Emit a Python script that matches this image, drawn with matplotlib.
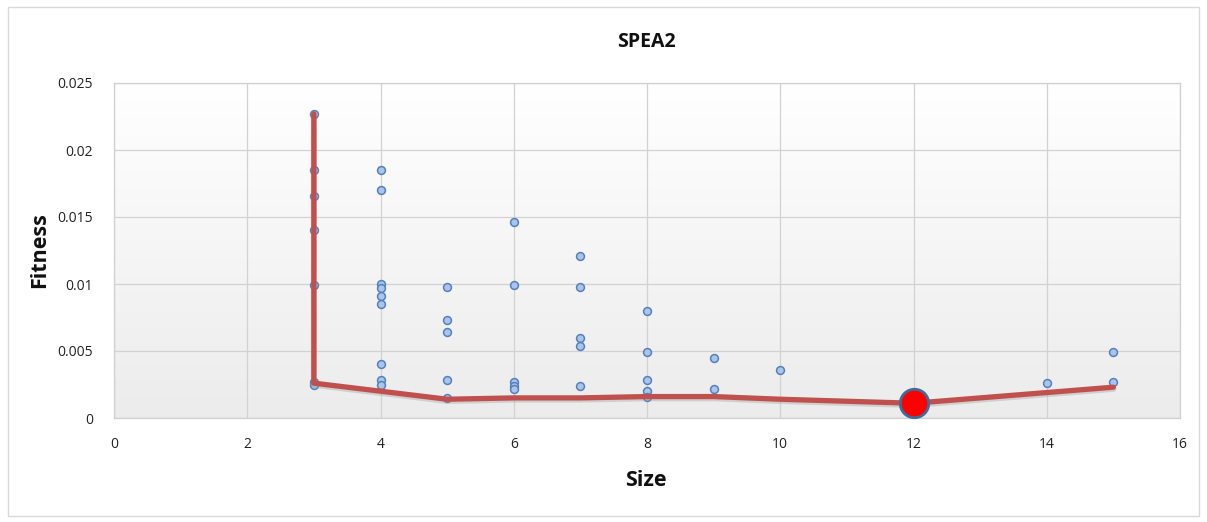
import numpy as np
import matplotlib
matplotlib.use("Agg")
import matplotlib.pyplot as plt
from matplotlib.patches import Rectangle

# Data: all solutions (size, fitness)
size_vals = [3, 3, 3, 3, 3, 3, 3,
             4, 4, 4, 4, 4, 4, 4, 4, 4,
             5, 5, 5, 5, 5,
             6, 6, 6, 6, 6,
             7, 7, 7, 7, 7,
             8, 8, 8, 8, 8,
             9, 9,
             10,
             14,
             15, 15]
fitness_vals = [0.0227, 0.0185, 0.0166, 0.0140, 0.0099, 0.0027, 0.0025,
                0.0185, 0.0170, 0.0100, 0.0097, 0.0091, 0.0085, 0.0040, 0.0028, 0.0025,
                0.0098, 0.0073, 0.0064, 0.0028, 0.0015,
                0.0146, 0.0099, 0.0027, 0.0024, 0.0022,
                0.0121, 0.0098, 0.0060, 0.0054, 0.0024,
                0.0080, 0.0049, 0.0028, 0.0020, 0.0016,
                0.0045, 0.0022,
                0.0036,
                0.0026,
                0.0049, 0.0027]

# Pareto front line
front_size = [3, 3, 4, 5, 6, 7, 8, 9, 10, 12, 14, 15]
front_fitness = [0.0227, 0.0026, 0.0020, 0.0014, 0.0015, 0.0015, 0.0016,
                 0.0016, 0.0014, 0.0011, 0.0019, 0.0023]

# Selected solution
best_size = [12]
best_fitness = [0.0011]

x_ticks = [0, 2, 4, 6, 8, 10, 12, 14, 16]
y_ticks = [0, 0.005, 0.01, 0.015, 0.02, 0.025]
y_tick_labels = ["0", "0.005", "0.01", "0.015", "0.02", "0.025"]

W, H = 1207, 522
fig = plt.figure(figsize=(W / 100, H / 100), dpi=100)
fig.patch.set_facecolor("white")
fig.patches.append(Rectangle((8 / W, 6 / H), (1199 - 8) / W, (515 - 6) / H,
                             transform=fig.transFigure, fill=False,
                             edgecolor="#d9d9d9", linewidth=1.0))

ax = fig.add_axes([114 / W, 1 - 418 / H, (1180 - 114) / W, (418 - 83) / H])
ax.set_xlim(0, 16)
ax.set_ylim(0, 0.025)

# gradient background
cols = np.empty((256, 1, 3))
top = np.array([1.0, 1.0, 1.0])
bot = np.array([0.925, 0.925, 0.925])
for i in range(256):
    t = i / 255
    cols[i, 0] = top * (1 - t) + bot * t
ax.imshow(cols, extent=[0, 1, 0, 1], transform=ax.transAxes,
          aspect="auto", zorder=0, origin="upper")

ax.set_xticks(x_ticks)
ax.set_yticks(y_ticks)
ax.set_yticklabels(y_tick_labels)
ax.grid(True, color="#d2d2d2", linewidth=0.9, zorder=1)
ax.tick_params(axis="x", length=0, labelsize=10, colors="#222222", pad=14)
ax.tick_params(axis="y", length=0, labelsize=10, colors="#222222", pad=15)
for lab in ax.get_xticklabels() + ax.get_yticklabels():
    lab.set_family("Open Sans")
for s in ax.spines.values():
    s.set_color("#d0d0d0")
    s.set_linewidth(0.9)

ax.scatter(size_vals, fitness_vals, s=32, facecolor="#a9c5ec",
           edgecolor="#5580bb", linewidth=1.1, zorder=3)

# line shadow
ax.plot(front_size, [f - 0.00012 for f in front_fitness], color="#999999",
        linewidth=4.5, alpha=0.35, zorder=3.5, solid_capstyle="round")
ax.plot(front_size, front_fitness, color="#c0504d", linewidth=3.8,
        zorder=4, solid_capstyle="round", solid_joinstyle="round")

ax.plot(best_size, best_fitness, "o", markersize=20.5, markerfacecolor="#ff0000",
        markeredgecolor="#3f6d99", markeredgewidth=2, zorder=5, clip_on=False)

fig.text(646 / W, 1 - 42 / H, "SPEA2", ha="center", va="center",
         fontsize=14, fontweight="bold", family="Open Sans", color="#111111")
fig.text(646 / W, 1 - 481 / H, "Size", ha="center", va="center",
         fontsize=15.5, fontweight="bold", family="Open Sans", color="#111111")
fig.text(40 / W, 1 - 250 / H, "Fitness", ha="center", va="center", rotation=90,
         fontsize=15.5, fontweight="bold", family="Open Sans", color="#111111")

fig.savefig("out.png", dpi=100)
